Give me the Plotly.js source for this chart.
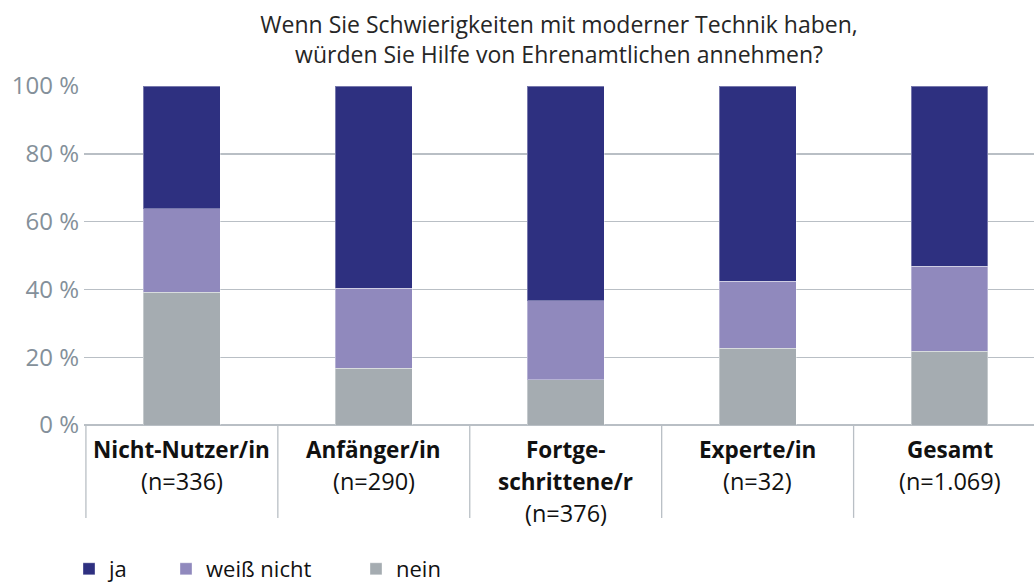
<!DOCTYPE html>
<html>
<head>
<meta charset="utf-8">
<script src="https://cdn.plot.ly/plotly-3.0.1.min.js"></script>
<style>html,body{margin:0;padding:0;background:#fff;}#chart{width:1034px;height:584px;}</style>
</head>
<body>
<div id="chart"></div>
<script>
// Data
const categories = ["Nicht-Nutzer/in", "Anfänger/in", "Fortge-<br>schrittene/r", "Experte/in", "Gesamt"];
const categoryLines = [["Nicht-Nutzer/in"], ["Anfänger/in"], ["Fortge-", "schrittene/r"], ["Experte/in"], ["Gesamt"]];
const sampleSizes = ["(n=336)", "(n=290)", "(n=376)", "(n=32)", "(n=1.069)"];
const nein = [39.1, 16.7, 13.4, 22.6, 21.7];
const weissNicht = [24.7, 23.6, 23.2, 19.8, 25.1];
const ja = [36.2, 59.7, 63.4, 57.6, 53.2];
const yTicks = [0, 20, 40, 60, 80, 100];
const yTickLabels = ["0 %", "20 %", "40 %", "60 %", "80 %", "100 %"];

const colors = {ja: "#2e3080", weiss: "#9089bd", nein: "#a5acb1"};
const FONT = "Open Sans, Noto Sans, sans-serif";
const idx = categories.map((c, i) => i);

const lineStyle = {color: "rgba(255,255,255,0.35)", width: 1};
const traces = [
  {type: "bar", name: "nein", x: idx, y: nein, marker: {color: colors.nein, line: lineStyle}, legend: "legend3", hoverinfo: "y+name"},
  {type: "bar", name: "weiß nicht", x: idx, y: weissNicht, marker: {color: colors.weiss, line: lineStyle}, legend: "legend2", hoverinfo: "y+name"},
  {type: "bar", name: "ja", x: idx, y: ja, marker: {color: colors.ja, line: lineStyle}, legend: "legend", hoverinfo: "y+name"}
];

// category labels as annotations (custom line spacing)
const annotations = [];
const LINE = 32;
idx.forEach(i => {
  const lines = categoryLines[i];
  lines.forEach((t, k) => {
    annotations.push({x: i, xref: "x", y: 0, yref: "paper", yanchor: "middle", xanchor: "center",
      yshift: -(24 + k * LINE), text: "<b>" + t + "</b>", showarrow: false,
      font: {family: FONT, size: 22.5, color: "#111"}});
  });
  annotations.push({x: i, xref: "x", y: 0, yref: "paper", yanchor: "middle", xanchor: "center",
    yshift: -(24 + lines.length * LINE), text: sampleSizes[i], showarrow: false,
    font: {family: FONT, size: 23.5, color: "#111"}});
});

// divider lines between categories in the label area
const shapes = [];
for (let i = 0; i <= categories.length; i++) {
  shapes.push({type: "line", xref: "x", yref: "paper", x0: i - 0.5, x1: i - 0.5, y0: 0, y1: -0.274,
    line: {color: "#b9bfc5", width: 1.3}});
}

const legendBase = {orientation: "h", xref: "container", yref: "container", xanchor: "left", yanchor: "middle",
  y: (584 - 569) / 584, font: {family: FONT, size: 22, color: "#111"}, bgcolor: "rgba(0,0,0,0)", borderwidth: 0};

const layout = {
  width: 1034, height: 584,
  margin: {l: 84, r: 0, t: 86, b: 159},
  paper_bgcolor: "#fff", plot_bgcolor: "#fff",
  barmode: "stack", bargap: 0.6,
  title: {text: "Wenn Sie Schwierigkeiten mit moderner Technik haben,<br>würden Sie Hilfe von Ehrenamtlichen annehmen?",
    font: {family: FONT, size: 23, color: "#262626"}, x: 0.5, xref: "paper", xanchor: "center", y: 1 - 33 / 584, yref: "container", yanchor: "middle"},
  xaxis: {range: [-0.51, 4.44], showticklabels: false, showgrid: false, zeroline: false, ticks: "", showline: false, fixedrange: true},
  yaxis: {range: [0, 100], tickvals: yTicks, ticktext: yTickLabels, showgrid: true, gridcolor: "#b9bfc5", gridwidth: 1.4,
    zeroline: true, zerolinecolor: "#b9bfc5", zerolinewidth: 1.4, showline: false, ticks: "", ticklabelstandoff: 4,
    tickfont: {family: FONT, size: 24, color: "#84909a"}, fixedrange: true, automargin: false},
  showlegend: true,
  legend: Object.assign({}, legendBase, {x: 69 / 1034}),
  legend2: Object.assign({}, legendBase, {x: 166 / 1034}),
  legend3: Object.assign({}, legendBase, {x: 356 / 1034}),
  annotations: annotations,
  shapes: shapes
};

Plotly.newPlot("chart", traces, layout, {displayModeBar: false, staticPlot: true});
</script>
</body>
</html>
